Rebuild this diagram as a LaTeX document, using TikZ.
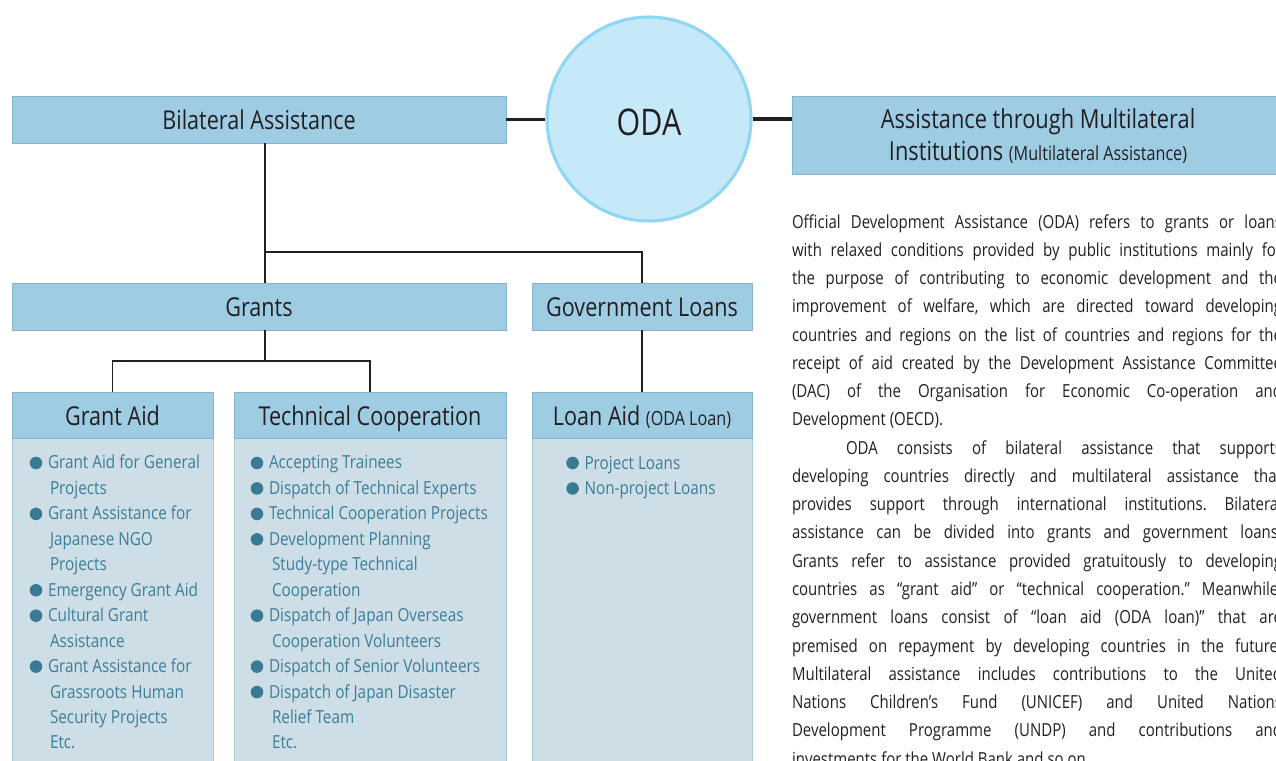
\documentclass[tikz,border=0pt]{standalone}
\usepackage{fontspec}
\setmainfont{Open Sans}[FakeStretch=0.83]
\newfontfamily\parafont{Open Sans}[FakeStretch=0.833]
\newfontfamily\itmfam{Open Sans}[FakeStretch=0.85]
\frenchspacing
\newdimen\px \px=0.75pt
\definecolor{hdrfill}{HTML}{9ECCE3}
\definecolor{hdrline}{HTML}{86B4CB}
\definecolor{bodyfill}{HTML}{CDDEE6}
\definecolor{bodyline}{HTML}{A9C8D8}
\definecolor{circfill}{HTML}{C6E9F9}
\definecolor{circline}{HTML}{8ED6F3}
\definecolor{itemc}{HTML}{3C7D99}
\definecolor{bulc}{HTML}{3A7A95}
\definecolor{ink}{HTML}{231F20}
\newcommand{\hdrfont}{\fontsize{19.5}{23}\selectfont}
\newcommand{\subfont}{\fontsize{14.6}{17}\selectfont}
\newcommand{\itmfont}{\itmfam\fontsize{13.5}{19.09}\selectfont}
\newcommand{\fl}{\hspace*{18.5\px}}
\newcommand{\cl}{\hspace*{20.5\px}}
\begin{document}
\begin{tikzpicture}[x=0.75pt,y=-0.75pt,
  hbox/.style={draw=hdrline, line width=0.75pt, fill=hdrfill, inner sep=0pt, outer sep=0pt,
    anchor=north west, text=ink, align=center, font=\hdrfont},
  hfix/.style={text height=18pt, text depth=3pt},
  bbox/.style={draw=bodyline, line width=0.75pt, fill=bodyfill, inner sep=0pt, outer sep=0pt,
    anchor=north west},
  itemlist/.style={anchor=base west, inner sep=0pt, outer sep=0pt, align=left,
    text=itemc, font=\itmfont},
  para/.style={anchor=base west, inner sep=0pt, outer sep=0pt, align=justify,
    text width=490\px, text=ink, font=\parafont\fontsize{13.5}{21.2}\selectfont\frenchspacing},
  tree/.style={draw=ink, line width=1pt},
  link/.style={draw=ink, line width=2.3pt},
  bul/.style={fill=bulc}]
\useasboundingbox (0,0) rectangle (1276,760);
\clip (0,0) rectangle (1276,760);

% top level
\node[hbox, hfix, minimum width=494\px, minimum height=47\px] (bil) at (12,96) {Bilateral Assistance};
\node[circle, draw=circline, line width=2.3pt, fill=circfill, minimum size=204\px, inner sep=0pt,
  text height=24pt, text depth=0pt,
  text=ink, font=\fontsize{27.5}{30}\selectfont] (oda) at (649,119) {ODA};
\node[hbox, minimum width=492\px, minimum height=78\px, text depth=0.5pt,
  font=\fontsize{19.7}{24}\selectfont] (mul) at (792,96)
  {Assistance through Multilateral\\Institutions {\subfont (Multilateral Assistance)}};

% second level
\node[hbox, hfix, minimum width=494\px, minimum height=47\px] (grants) at (12,283) {Grants};
\node[hbox, hfix, minimum width=220\px, minimum height=47\px] (gov) at (532,283) {Government Loans};

% third level bodies
\node[bbox, minimum width=201\px, minimum height=340\px] (gab) at (12,438) {};
\node[bbox, minimum width=272\px, minimum height=340\px] (tcb) at (234,438) {};
\node[bbox, minimum width=220\px, minimum height=340\px] (lab) at (532,438) {};
% third level headers
\node[hbox, hfix, minimum width=201\px, minimum height=46\px] (gah) at (12,392) {Grant Aid};
\node[hbox, hfix, minimum width=272\px, minimum height=46\px] (tch) at (234,392) {Technical Cooperation};
\node[hbox, hfix, minimum width=220\px, minimum height=46\px] (lah) at (532,392) {Loan Aid {\subfont (ODA Loan)}};

% connectors
\coordinate (j1) at (265,252);
\coordinate (j2) at (265,361);
\draw[link] (bil.east) -- (bil.east -| oda.west);
\draw[link] (oda.east) -- (oda.east -| mul.west);
\draw[tree] (bil.south -| j1) -- (j1) -- (grants.north -| j1);
\draw[tree] (j1) -| (gov.north);
\draw[tree] (grants.south -| j2) -- (j2);
\draw[tree] (gah.north) |- (j2) -| (tch.north);
\draw[tree] (gov.south) -- (lah.north);

% lists (base anchor = last line's baseline)
\node[itemlist] (gal) at (29.5,748.95) {\fl Grant Aid for General\\ \cl Projects\\
  \fl Grant Assistance for\\ \cl Japanese NGO\\ \cl Projects\\
  \fl Emergency Grant Aid\\ \fl Cultural Grant\\ \cl Assistance\\
  \fl Grant Assistance for\\ \cl Grassroots Human\\ \cl Security Projects\\ \cl Etc.};
\foreach \k in {0,2,5,6,8} \fill[bul] (36,{463+25.45*\k}) circle[radius=4.7pt];

\node[itemlist] (tcl) at (250.5,748.95) {\fl Accepting Trainees\\ \fl Dispatch of Technical Experts\\
  \fl Technical Cooperation Projects\\ \fl Development Planning\\
  \hspace*{21.5\px}Study-type Technical\\ \hspace*{21.5\px}Cooperation\\
  \fl Dispatch of Japan Overseas\\ \hspace*{21.5\px}Cooperation Volunteers\\
  \fl Dispatch of Senior Volunteers\\ \fl Dispatch of Japan Disaster\\
  \hspace*{21.5\px}Relief Team\\ \hspace*{21.5\px}Etc.};
\foreach \k in {0,1,2,3,6,8,9} \fill[bul] (257,{463+25.45*\k}) circle[radius=4.7pt];

\node[itemlist] (lal) at (566,494.45) {\fl Project Loans\\ \fl Non-project Loans};
\foreach \k in {0,1} \fill[bul] (572.6,{463+25.45*\k}) circle[radius=4.7pt];

% explanatory text (base anchor = first line's baseline)
\node[para] (txt) at (792,228) {Official Development Assistance (ODA) refers to grants or loans \linebreak
with relaxed conditions provided by public institutions mainly for \linebreak
the purpose of contributing to economic development and the \linebreak
improvement of welfare, which are directed toward developing \linebreak
countries and regions on the list of countries and regions for the \linebreak
receipt of aid created by the Development Assistance Committee \linebreak
(DAC) of the Organisation for Economic Co-operation and \linebreak
Development (OECD).\par
\hspace*{54\px}ODA consists of bilateral assistance that supports \linebreak
developing countries directly and multilateral assistance that \linebreak
provides support through international institutions. Bilateral \linebreak
assistance can be divided into grants and government loans. \linebreak
Grants refer to assistance provided gratuitously to developing \linebreak
countries as “grant aid” or “technical cooperation.” Meanwhile, \linebreak
government loans consist of “loan aid (ODA loan)” that are \linebreak
premised on repayment by developing countries in the future. \linebreak
Multilateral assistance includes contributions to the United \linebreak
Nations Children’s Fund (UNICEF) and United Nations \linebreak
Development Programme (UNDP) and contributions and \linebreak
investments for the World Bank and so on.};
\end{tikzpicture}
\end{document}
